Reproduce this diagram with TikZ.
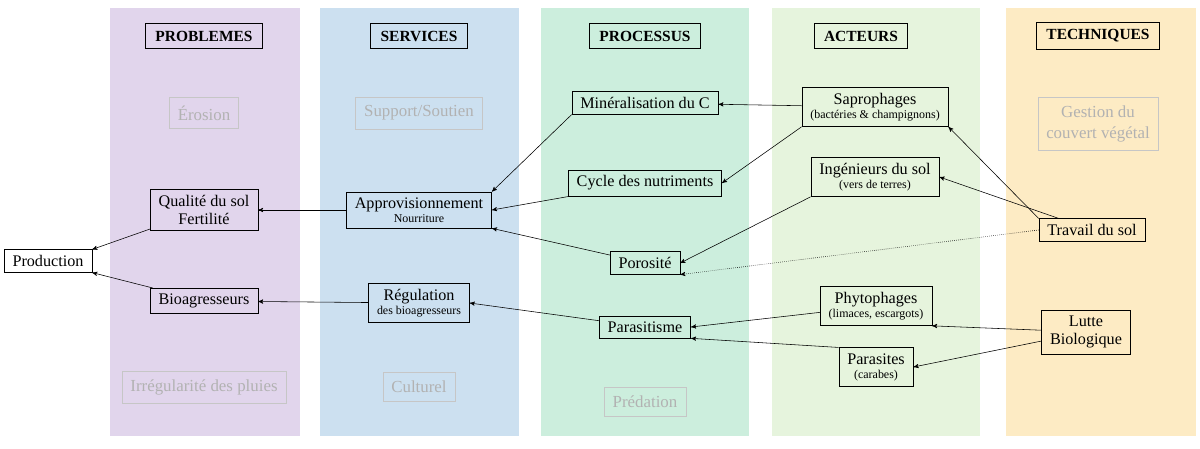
\documentclass[tikz,border=0pt]{standalone}
\usepackage{fontspec}
\setmainfont{Liberation Serif}
\usetikzlibrary{positioning, arrows}
\definecolor{colprob}{HTML}{E1D5EC}
\definecolor{colserv}{HTML}{CCE0F0}
\definecolor{colproc}{HTML}{CCEEDD}
\definecolor{colact}{HTML}{E6F4DD}
\definecolor{coltech}{HTML}{FDEBC4}
\tikzset{
    head/.style={draw, line width=0.8pt, font=\fontsize{11}{13}\selectfont\bfseries, inner xsep=7pt, inner ysep=5pt},
    item/.style={draw, font=\fontsize{11.5}{13}\selectfont, align=center, inner xsep=6pt, inner ysep=4pt},
    faded/.style={draw=gray!45, text=gray!60, font=\fontsize{12}{15}\selectfont, align=center, inner sep=6pt},
    link/.style={->, >=stealth', thin},
}
\newcommand{\sub}[1]{{\fontsize{8.5}{10}\selectfont #1}}
\begin{document}
\begin{tikzpicture}[x=0.025cm, y=-0.025cm]
    \useasboundingbox (0,0) rectangle (1200,448);
    \fill[colprob] (110,8) rectangle (300,436);
    \fill[colserv] (320,8) rectangle (519,436);
    \fill[colproc] (541,8) rectangle (749,436);
    \fill[colact] (772,8) rectangle (980,436);
    \fill[coltech] (1006,8) rectangle (1196,436);

    \node[head] (h-prob) at (204,36) {PROBLEMES};
    \node[head] (h-serv) at (419,36) {SERVICES};
    \node[head] (h-proc) at (645,36) {PROCESSUS};
    \node[head] (h-act) at (861,36) {ACTEURS};
    \node[head] (h-tech) at (1098,36) {TECHNIQUES};

    \node[faded] (erosion) at (204,113) {Érosion};
    \node[faded] (support) at (419,113) {Support/Soutien};
    \node[faded] (couvert) at (1098,124) {Gestion du\\couvert végétal};
    \node[faded] (pluies) at (204,387) {Irrégularité des pluies};
    \node[faded] (culturel) at (419,387) {Culturel};
    \node[faded] (predation) at (645,402) {Prédation};

    \node[item, fill=white] (production) at (48,261) {Production};
    \node[item, fill=colprob] (qualite) at (204,210) {Qualité du sol\\Fertilité};
    \node[item, fill=colprob] (bioagr) at (204,301) {Bioagresseurs};
    \node[item, fill=colserv] (approv) at (419,210) {Approvisionnement\\[-3pt]\sub{Nourriture}};
    \node[item, fill=colserv] (regul) at (419,303) {Régulation\\[-3pt]\sub{des bioagresseurs}};
    \node[item, fill=colproc] (mineral) at (645,103) {Minéralisation du C};
    \node[item, fill=colproc] (cycle) at (645,183) {Cycle des nutriments};
    \node[item, fill=colproc] (porosite) at (645,263) {Porosité};
    \node[item, fill=colproc] (parasitisme) at (645,327) {Parasitisme};
    \node[item, fill=colact] (sapro) at (875,107) {Saprophages\\[-3pt]\sub{(bactéries \& champignons)}};
    \node[item, fill=colact] (inge) at (875,177) {Ingénieurs du sol\\[-3pt]\sub{(vers de terres)}};
    \node[item, fill=colact] (phyto) at (876,306) {Phytophages\\[-3pt]\sub{(limaces, escargots)}};
    \node[item, fill=colact] (parasites) at (876,367) {Parasites\\[-3pt]\sub{(carabes)}};
    \node[item, fill=coltech] (travail) at (1092,230) {Travail du sol};
    \node[item, fill=coltech] (lutte) at (1086,332) {Lutte\\Biologique};

    \draw[link] (qualite) -- (production.north east);
    \draw[link] (bioagr) -- (production.south east);
    \draw[link] (approv) -- (qualite);
    \draw[link] (regul) -- (bioagr);
    \draw[link] (mineral.south west) -- (approv.north east);
    \draw[link] (cycle) -- (approv.east);
    \draw[link] (porosite) -- (approv.south east);
    \draw[link] (parasitisme) -- (regul.east);
    \draw[link] (sapro) -- (mineral);
    \draw[link] (sapro.south west) -- (cycle.east);
    \draw[link] (inge.south west) -- (porosite.east);
    \draw[link] (travail.north west) -- (sapro.south east);
    \draw[link] (travail) -- (inge.east);
    \draw[link, densely dotted] (travail.west) -- (porosite.south east);
    \draw[link] (phyto) -- (parasitisme.east);
    \draw[link] (parasites.north west) -- (parasitisme.south east);
    \draw[link] (lutte) -- (phyto.south east);
    \draw[link] (lutte) -- (parasites.east);
\end{tikzpicture}
\end{document}
